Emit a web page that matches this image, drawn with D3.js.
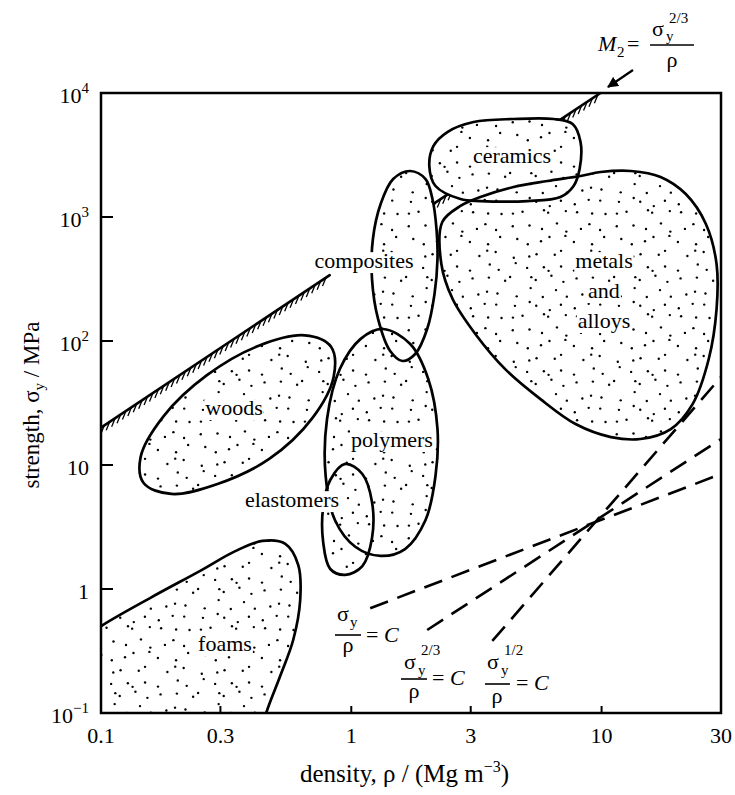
<!DOCTYPE html>
<html><head><meta charset="utf-8">
<script src="https://cdn.jsdelivr.net/npm/d3@7"></script>
<style>
body{margin:0;background:#fff}
svg{display:block}
text{font-family:"Liberation Serif","Times New Roman",serif;fill:#000}
</style>
</head><body>
<svg id="c" width="735" height="795"></svg>
<script>
// ---------- data ----------
const xTicks = [0.1, 0.3, 1, 3, 10, 30];
const xTickLabels = ["0.1", "0.3", "1", "3", "10", "30"];
const yTicks = [1e4, 1e3, 1e2, 10, 1, 0.1];
const yTickBase = ["10", "10", "10", "10", "1", "10"];
const yTickExp = ["4", "3", "2", "", "", "\u22121"];

// material-family envelopes: [density Mg/m3, strength MPa]
const woods = [[0.83,89.9],[0.85,51.3],[0.70,24.0],[0.47,11.2],[0.292,7.03],[0.191,5.84],[0.148,7.16],[0.144,11.6],[0.178,24.8],[0.265,53.0],[0.427,91.6],[0.652,111]];
const foams = [[0.0904,0.426],[0.099,0.494],[0.157,0.845],[0.249,1.40],[0.344,2.02],[0.441,2.44],[0.545,2.31],[0.614,1.56],[0.625,0.815],[0.586,0.388],[0.52,0.199],[0.457,0.1],[0.425,0.056],[0.082,0.056],[0.082,0.395]];
const elastomers = [[0.946,10.2],[1.107,8.46],[1.21,5.03],[1.21,2.58],[1.107,1.53],[0.946,1.30],[0.824,1.45],[0.772,2.39],[0.772,4.58],[0.824,7.57]];
const polymers = [[1.34,125],[1.72,94.6],[2.03,49.4],[2.21,19.5],[2.17,8.15],[1.98,3.60],[1.64,2.10],[1.31,1.85],[1.04,2.18],[0.86,3.60],[0.79,8.15],[0.80,23.5],[0.90,59.4],[1.09,104]];
const composites = [[1.72,2350],[1.98,2024],[2.11,1397],[2.19,800],[2.21,458],[2.15,239],[2.01,125],[1.80,78.5],[1.60,69],[1.43,83],[1.28,150],[1.21,316],[1.22,665],[1.31,1274],[1.47,2024]];
const ceramics = [[2.17,1778],[2.05,2578],[2.13,3741],[2.42,4845],[3.08,5834],[4.45,6170],[6.43,6170],[7.66,5623],[8.24,4027],[8.17,2438],[7.73,1778],[6.85,1449],[5.06,1345],[3.28,1345],[2.73,1396]];
const metals = [[2.31,912],[2.73,1227],[3.28,1449],[4.45,1746],[6.08,1950],[8.24,2142],[9.91,2305],[13.1,2350],[17.2,2103],[21.7,1531],[26.1,879],[28.8,418],[28.8,181],[26.8,71.6],[23.1,31],[18.9,19.5],[14.3,16.2],[10.9,16.8],[7.87,21.4],[5.7,34],[4.13,59],[3.13,114],[2.54,218],[2.29,418]];

// guide line M2 = sigma^(2/3)/rho (two visible pieces)
const guideSeg1 = [[0.1, 20], [0.82, 340]];
const guideSeg2 = [[2.0, 1175], [9.9, 10000]];
// guide lines of the lower-right key
const dashC1 = [[1.19, 0.70], [30, 8.46]];
const dashC2 = [[2.01, 0.467], [30, 16.2]];
const dashC3 = [[3.66, 0.381], [30, 51.2]];

// ---------- setup ----------
const svg = d3.select("#c");
const X0 = 101, X1 = 721, Y0 = 713, Y1 = 93;
const x = d3.scaleLog().domain([0.1, 30]).range([X0, X1]);
const y = d3.scaleLog().domain([0.1, 1e4]).range([Y0, Y1]);
const LBL = 22;

const defs = svg.append("defs");
defs.append("clipPath").attr("id", "plotclip").append("rect")
  .attr("x", X0).attr("y", Y1).attr("width", X1 - X0).attr("height", Y0 - Y1);
// stipple texture
const T = 104, CELL = 13;
const pat = defs.append("pattern").attr("id", "stip").attr("patternUnits", "userSpaceOnUse")
  .attr("width", T).attr("height", T);
pat.append("rect").attr("width", T).attr("height", T).attr("fill", "#fff");
function hash(i){ const s = Math.sin(i*127.1+311.7)*43758.5453; return s - Math.floor(s); }
let k = 0;
for (let i = 0; i < T/CELL; i++) for (let j = 0; j < T/CELL; j++) {
  k++;
  pat.append("circle").attr("cx", i*CELL + 1.5 + hash(k)*(CELL-3)).attr("cy", j*CELL + 1.5 + hash(k+977)*(CELL-3))
    .attr("r", 1.2).attr("fill", "#000");
}
const mk = defs.append("marker").attr("id", "arr").attr("viewBox", "0 0 10 10")
  .attr("refX", 9).attr("refY", 5).attr("markerWidth", 5).attr("markerHeight", 5)
  .attr("orient", "auto").attr("markerUnits", "strokeWidth");
mk.append("path").attr("d", "M0,0 L10,5 L0,10 z").attr("fill", "#000");

const plot = svg.append("g").attr("clip-path", "url(#plotclip)");

// ---------- hatched guide line ----------
function hatched(seg){
  const p0 = [x(seg[0][0]), y(seg[0][1])], p1 = [x(seg[1][0]), y(seg[1][1])];
  plot.append("line").attr("x1", p0[0]).attr("y1", p0[1]).attr("x2", p1[0]).attr("y2", p1[1])
    .attr("stroke", "#000").attr("stroke-width", 2.6).attr("stroke-linecap", "round");
  const dx = p1[0]-p0[0], dy = p1[1]-p0[1], L = Math.hypot(dx, dy);
  for (let t = 4; t < L - 1; t += 6.5) {
    const px = p0[0] + dx*t/L, py = p0[1] + dy*t/L;
    plot.append("line").attr("x1", px).attr("y1", py).attr("x2", px - 3.5).attr("y2", py + 8.5)
      .attr("stroke", "#000").attr("stroke-width", 1.3);
  }
}
hatched(guideSeg1);
hatched(guideSeg2);

// ---------- dashed key lines ----------
[dashC1, dashC2, dashC3].forEach(seg => {
  plot.append("line").attr("x1", x(seg[0][0])).attr("y1", y(seg[0][1]))
    .attr("x2", x(seg[1][0])).attr("y2", y(seg[1][1]))
    .attr("stroke", "#000").attr("stroke-width", 2.6).attr("stroke-dasharray", "19,10");
});

// ---------- envelopes ----------
const families = [woods, foams, elastomers, polymers, composites, ceramics, metals];
const curve = d3.line().x(d => x(d[0])).y(d => y(d[1])).curve(d3.curveCatmullRomClosed.alpha(0.5));
families.forEach(f => plot.append("path").attr("d", curve(f)).attr("fill", "url(#stip)"));
families.forEach(f => plot.append("path").attr("d", curve(f)).attr("fill", "none")
  .attr("stroke", "#000").attr("stroke-width", 2.7));

// ---------- family labels with white backing ----------
function label(txt, cx, by, size){
  const s = size || LBL;
  const g = svg.append("g");
  const t = g.append("text").attr("x", cx).attr("y", by).attr("text-anchor", "middle")
    .attr("font-size", s).text(txt);
  const b = t.node().getBBox();
  g.insert("rect", "text").attr("x", b.x - 1).attr("y", by - 0.72*s)
    .attr("width", b.width + 2).attr("height", 0.95*s).attr("fill", "#fff");
}
label("ceramics", 512, 163);
label("composites", 364, 268);
label("metals", 604, 268);
label("and", 604, 298);
label("alloys", 604, 328);
label("woods", 234, 415);
label("polymers", 392, 447);
label("elastomers", 292, 507);
label("foams", 225, 651);

// ---------- frame & axes ----------
svg.append("rect").attr("x", X0).attr("y", Y1).attr("width", X1 - X0).attr("height", Y0 - Y1)
  .attr("fill", "none").attr("stroke", "#000").attr("stroke-width", 2.5);
const ya = svg.append("g");
yTicks.forEach((v, i) => {
  ya.append("line").attr("x1", X0).attr("x2", X0 + 12).attr("y1", y(v)).attr("y2", y(v))
    .attr("stroke", "#000").attr("stroke-width", 2);
  const t = ya.append("text").attr("x", 89).attr("y", y(v) + 10).attr("text-anchor", "end")
    .attr("font-size", 22).text(yTickBase[i]);
  if (yTickExp[i]) t.append("tspan").attr("dy", -10).attr("font-size", 15).text(yTickExp[i]);
});
const xa = svg.append("g");
xTicks.forEach((v, i) => {
  xa.append("line").attr("x1", x(v)).attr("x2", x(v)).attr("y1", Y0).attr("y2", Y0 - 7)
    .attr("stroke", "#000").attr("stroke-width", 2);
  xa.append("text").attr("x", x(v)).attr("y", 743).attr("text-anchor", "middle")
    .attr("font-size", 22).text(xTickLabels[i]);
});

// axis titles
const xt = svg.append("text").attr("x", 300).attr("y", 782).attr("font-size", 25);
xt.append("tspan").text("density, \u03c1 / (Mg m");
xt.append("tspan").attr("dy", -10).attr("font-size", 16).text("\u22123");
xt.append("tspan").attr("dy", 10).text(")");
const yt = svg.append("text").attr("transform", "translate(39,405) rotate(-90)")
  .attr("text-anchor", "middle").attr("font-size", 23);
yt.append("tspan").text("strength, \u03c3");
yt.append("tspan").attr("dy", 5).attr("font-size", 15).text("y");
yt.append("tspan").attr("dy", -5).text(" / MPa");

// ---------- formula labels ----------
function t(s, xx, yy, size, opts){
  const e = svg.append("text").attr("x", xx).attr("y", yy).attr("font-size", size).text(s);
  if (opts && opts.anchor) e.attr("text-anchor", opts.anchor);
  if (opts && opts.italic) e.attr("font-style", "italic");
  return e;
}
function bar(x1, x2, yy){
  svg.append("line").attr("x1", x1).attr("x2", x2).attr("y1", yy).attr("y2", yy)
    .attr("stroke", "#000").attr("stroke-width", 1.6);
}
function eqC(xx, yy){
  const e = svg.append("text").attr("x", xx).attr("y", yy).attr("font-size", 22);
  e.append("tspan").text("= ");
  e.append("tspan").attr("font-style", "italic").text("C");
}
// sigma/rho = C
t("\u03c3", 337, 621, 22); t("y", 350, 627, 15);
bar(335, 361, 635);
t("\u03c1", 348, 652, 22, {anchor: "middle"});
eqC(366, 642);
// sigma^(2/3)/rho = C
t("\u03c3", 404, 669, 22); t("y", 418, 675, 15); t("2/3", 421, 655, 15);
bar(401, 427, 679);
t("\u03c1", 414, 698, 22, {anchor: "middle"});
eqC(432, 685);
// sigma^(1/2)/rho = C
t("\u03c3", 487, 669, 22); t("y", 501, 675, 15); t("1/2", 504, 655, 15);
bar(485, 510, 684);
t("\u03c1", 497, 703, 22, {anchor: "middle"});
eqC(516, 690);

// M2 label
t("M", 598, 51, 22, {italic: true}); t("2", 617, 57, 15);
t("=", 627, 51, 22);
bar(650, 694, 45);
t("\u03c3", 652, 36, 22); t("y", 666, 41, 15); t("2/3", 669, 23, 15);
t("\u03c1", 672, 67, 22, {anchor: "middle"});
svg.append("line").attr("x1", 633).attr("y1", 70).attr("x2", 608).attr("y2", 87)
  .attr("stroke", "#000").attr("stroke-width", 2.2).attr("marker-end", "url(#arr)");
</script>
</body></html>
